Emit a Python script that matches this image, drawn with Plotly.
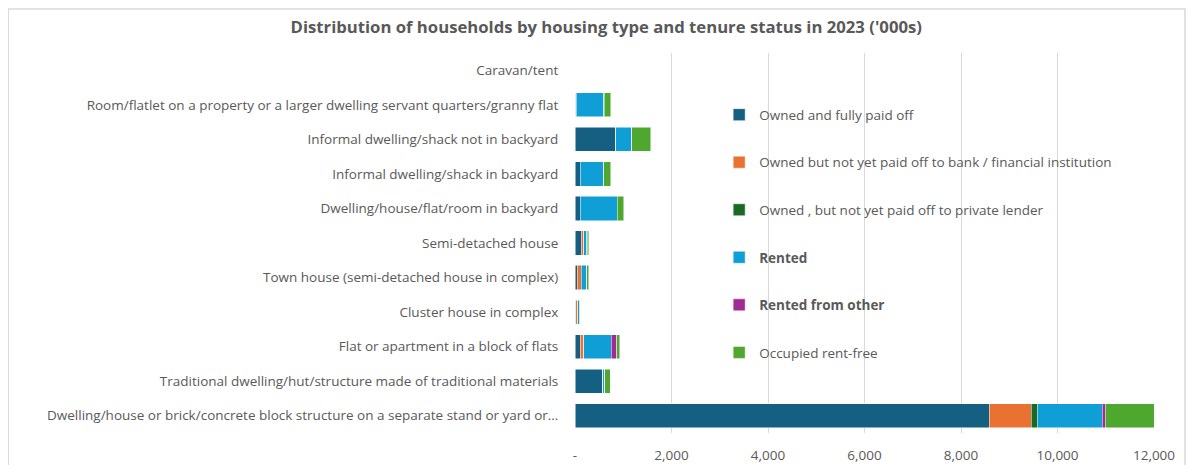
import plotly.graph_objects as go

categories = [
    "Dwelling/house or brick/concrete block structure on a separate stand or yard or…",
    "Traditional dwelling/hut/structure made of traditional materials",
    "Flat or apartment in a block of flats",
    "Cluster house in complex",
    "Town house (semi-detached house in complex)",
    "Semi-detached house",
    "Dwelling/house/flat/room in backyard",
    "Informal dwelling/shack in backyard",
    "Informal dwelling/shack not in backyard",
    "Room/flatlet on a property or a larger dwelling servant quarters/granny flat",
    "Caravan/tent",
]

owned_full = [8590, 565, 105, 15, 50, 125, 105, 105, 830, 20, 4]
owned_bank = [865, 5, 70, 35, 75, 50, 5, 3, 5, 3, 0]
owned_private = [125, 3, 5, 2, 3, 3, 3, 3, 5, 2, 0]
rented = [1345, 40, 575, 40, 115, 70, 760, 480, 330, 570, 2]
rented_other = [60, 2, 115, 1, 2, 2, 5, 5, 5, 15, 0]
rent_free = [1015, 115, 55, 5, 35, 35, 135, 140, 395, 130, 1]

series_names = [
    "Owned and fully paid off",
    "Owned but not yet paid off to bank / financial institution",
    "Owned , but not yet paid off to private lender",
    "<b>Rented</b>",
    "<b>Rented from other</b>",
    "Occupied rent-free",
]
series_values = [owned_full, owned_bank, owned_private, rented, rented_other, rent_free]
colors = ["#156082", "#E97132", "#196B24", "#0F9ED5", "#A02B93", "#4EA72E"]

tick_vals = [0, 2000, 4000, 6000, 8000, 10000, 12000]
tick_text = ["-", "2,000", "4,000", "6,000", "8,000", "10,000", "12,000"]

FONT = "Open Sans"

fig = go.Figure()
for i, (name, vals, col) in enumerate(zip(series_names, series_values, colors)):
    fig.add_trace(go.Bar(
        y=categories, x=vals, name=name, orientation="h",
        marker=dict(color=col, line=dict(color="white", width=0.5)),
        legendgroup=f"g{i}",
    ))

fig.update_layout(
    barmode="stack",
    bargap=0.3,
    width=1180, height=457,
    paper_bgcolor="white", plot_bgcolor="white",
    margin=dict(l=567, r=34, t=45, b=32),
    font=dict(family=FONT, size=13.5, color="#595959"),
    title=dict(
        text="<b>Distribution of households by housing type and tenure status in 2023 ('000s)</b>",
        x=0.507, xanchor="center", y=0.958, yanchor="middle",
        font=dict(family=FONT, size=16.7, color="#595959"),
    ),
    legend=dict(
        x=0.249, xanchor="left", y=0.878, yanchor="top",
        traceorder="grouped", tracegroupgap=27,
        font=dict(family=FONT, size=13.5, color="#595959"),
        bgcolor="rgba(0,0,0,0)",
    ),
    xaxis=dict(
        range=[0, 12000], tickvals=tick_vals, ticktext=tick_text,
        showgrid=True, gridcolor="#D9D9D9", gridwidth=1,
        zeroline=False, showline=False,
        ticks="outside", ticklen=10, tickcolor="rgba(0,0,0,0)",
        tickfont=dict(family=FONT, size=13.5, color="#595959"),
        automargin=False,
    ),
    yaxis=dict(
        type="category", categoryorder="array", categoryarray=categories,
        showgrid=False, zeroline=False, showline=False,
        ticks="outside", ticklen=13, tickcolor="rgba(0,0,0,0)",
        tickfont=dict(family=FONT, size=13.5, color="#595959"),
        automargin=False,
    ),
    shapes=[dict(
        type="rect", xref="paper", yref="paper",
        x0=-0.979, x1=1.0535, y0=-0.12, y1=1.116,
        line=dict(color="#D9D9D9", width=1.5), fillcolor="rgba(0,0,0,0)",
    )],
)

fig.write_html("out.html")
